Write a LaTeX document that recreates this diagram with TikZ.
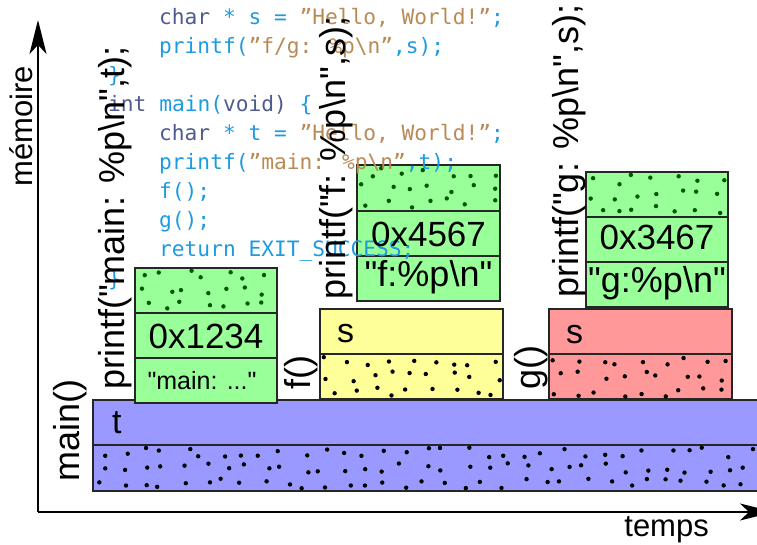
\documentclass[tikz,border=0pt]{standalone}
\usepackage{fontspec}
\setmainfont{Liberation Sans}[Ligatures=TeXOff]
\newfontfamily\codefont{DejaVu Sans Mono}
\usetikzlibrary{arrows.meta}
\definecolor{kwc}{HTML}{4E5B8E}
\definecolor{cyc}{HTML}{1E9BE0}
\definecolor{stc}{HTML}{B88A55}
\definecolor{gfill}{HTML}{99FF99}
\definecolor{yfill}{HTML}{FFFF99}
\definecolor{rfill}{HTML}{FF9999}
\definecolor{bfill}{HTML}{9999FF}
\definecolor{gdot}{HTML}{005500}
\newcommand\randdots[5]{%
  \pgfmathtruncatemacro\rdnx{round((#3-#1)/20)}%
  \pgfmathtruncatemacro\rdny{round((#4-#2)/15)}%
  \pgfmathsetmacro\rddx{(#3-#1)/\rdnx}%
  \pgfmathsetmacro\rddy{(#4-#2)/\rdny}%
  \foreach \i in {1,...,\rdnx}{%
    \foreach \j in {1,...,\rdny}{%
      \pgfmathsetmacro\rdpx{#1+\rddx*(\i-0.5)+7*rand}%
      \pgfmathsetmacro\rdpy{#2+\rddy*(\j-0.5)+5*rand}%
      \fill[#5] (\rdpx,\rdpy) circle[radius=2.2pt];
    }}}
\begin{document}
\begin{tikzpicture}[x=1pt,y=-1pt,
  cell/.style={draw=black!85,line width=1.4pt,rectangle,inner sep=0pt,outer sep=0pt,anchor=north west},
  code/.style={anchor=base west,inner sep=0pt,font=\fontsize{21.2}{22}\codefont},
  vlabel/.style={anchor=base west,inner sep=0pt,rotate=90,font=\fontsize{36}{36}\selectfont},
  val/.style={anchor=base,inner sep=0pt,font=\fontsize{35}{35}\selectfont},
  strv/.style={anchor=base,inner sep=0pt,font=\fontsize{36}{36}\selectfont},
  smallv/.style={anchor=base,inner sep=0pt,font=\fontsize{25}{25}\selectfont},
  varname/.style={anchor=base west,inner sep=0pt,font=\fontsize{34}{34}\selectfont},
  axlabel/.style={inner sep=0pt,font=\fontsize{31}{31}\selectfont},
  axis/.style={line width=2pt,-{Stealth[length=34pt,width=17pt,inset=9pt]}}]
\useasboundingbox (0,0) rectangle (757,545);
\clip (0,0) rectangle (757,545);
\pgfmathsetseed{4242}
% main frame
\node[cell,fill=bfill,minimum width=700pt,minimum height=45pt] (mt) at (93,400) {};
\node[cell,fill=bfill,minimum width=700pt,minimum height=46pt] (md) at (93,445) {};
\randdots{93}{445}{757}{491}{black}
% f frame
\node[cell,fill=yfill,minimum width=183pt,minimum height=45pt] (fs) at (320,309) {};
\node[cell,fill=yfill,minimum width=183pt,minimum height=45pt] (fd) at (320,354) {};
\randdots{320}{354}{503}{399}{black}
% g frame
\node[cell,fill=rfill,minimum width=183pt,minimum height=45pt] (gs) at (549,309) {};
\node[cell,fill=rfill,minimum width=183pt,minimum height=45pt] (gd) at (549,354) {};
\randdots{549}{354}{732}{399}{black}
% printf main
\node[cell,fill=gfill,minimum width=142pt,minimum height=45pt] (pm1) at (135,268) {};
\node[cell,fill=gfill,minimum width=142pt,minimum height=45pt] (pm2) at (135,313) {};
\node[cell,fill=gfill,minimum width=142pt,minimum height=45pt] (pm3) at (135,358) {};
\randdots{135}{268}{277}{313}{gdot}
% printf f
\node[cell,fill=gfill,minimum width=143pt,minimum height=46pt] (pf1) at (357,165) {};
\node[cell,fill=gfill,minimum width=143pt,minimum height=45pt] (pf2) at (357,211) {};
\node[cell,fill=gfill,minimum width=143pt,minimum height=45pt] (pf3) at (357,256) {};
\randdots{357}{165}{500}{211}{gdot}
% printf g
\node[cell,fill=gfill,minimum width=142pt,minimum height=45pt] (pg1) at (586,172) {};
\node[cell,fill=gfill,minimum width=142pt,minimum height=45pt] (pg2) at (586,217) {};
\node[cell,fill=gfill,minimum width=142pt,minimum height=45pt] (pg3) at (586,262) {};
\randdots{586}{172}{728}{217}{gdot}
% code
\node[code] (c1) at (159,25) {{\color{kwc}char} {\color{cyc}* s =} {\color{stc}”Hello, World!”}{\color{cyc};}};
\node[code] (c2) at (159,54) {{\color{cyc}printf(}{\color{stc}”f/g: \%p\textbackslash n”}{\color{cyc},s);}};
\node[code] (c3) at (108,83) {{\color{cyc}\}}};
\node[code] (c4) at (108,112) {{\color{kwc}int} {\color{cyc}main(}{\color{kwc}void)} {\color{cyc}\{}};
\node[code] (c5) at (159,141) {{\color{kwc}char} {\color{cyc}* t =} {\color{stc}”Hello, World!”}{\color{cyc};}};
\node[code] (c6) at (159,170) {{\color{cyc}printf(}{\color{stc}”main: \%p\textbackslash n”}{\color{cyc},t);}};
\node[code] (c7) at (159,199) {{\color{cyc}f();}};
\node[code] (c8) at (159,228) {{\color{cyc}g();}};
\node[code] (c9) at (159,257) {{\color{cyc}return EXIT\_SUCCESS;}};
\node[code] (c10) at (108,286) {{\color{cyc}\}}};
% cell contents
\node[varname] (tv) at (112,433) {t};
\node[varname] (sv1) at (337,342) {s};
\node[varname] (sv2) at (566,343) {s};
\node[val] (v1) at (206,348) {0x1234};
\node[smallv] (v1s) at (202,389) {"main: ..."};
\node[val] (v2) at (428.5,247) {0x4567};
\node[strv] (v2s) at (428.5,287) {"f:\%p\textbackslash n"};
\node[val] (v3) at (657,250) {0x3467};
\node[strv] (v3s) at (657,292) {"g:\%p\textbackslash n"};
% rotated labels
\node[vlabel] (lm) at (124,390) {printf("main: \%p\textbackslash n",t);};
\node[vlabel] (lf) at (345,300) {printf("f: \%p\textbackslash n",s);};
\node[vlabel] (lg) at (578,298) {printf("g: \%p\textbackslash n",s);};
\node[vlabel] (lmain) at (79,482) {main()};
\node[vlabel] (lfc) at (310,390) {f()};
\node[vlabel] (lgc) at (540,390) {g()};
% axes
\coordinate (O) at (38,512);
\coordinate (ytip) at (38,20);
\coordinate (xtip) at (774,512);
\draw[axis] (O) -- (ytip);
\draw[axis] (O) -- (xtip);
\node[axlabel,rotate=90,anchor=base west] (mem) at (32,187) {mémoire};
\node[axlabel,anchor=base east] (tps) at (709,536) {temps};
\end{tikzpicture}
\end{document}
